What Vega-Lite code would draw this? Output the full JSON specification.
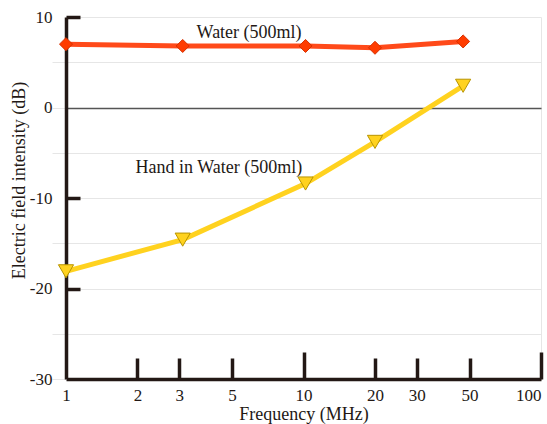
{
  "$schema": "https://vega.github.io/schema/vega-lite/v6.json",
  "width": 475,
  "height": 362,
  "autosize": "none",
  "padding": {"left": 66, "top": 17, "right": 6, "bottom": 45},
  "background": "white",
  "config": {"view": {"stroke": null}, "font": "Liberation Serif"},
  "data": {
    "values": [
      {"series": "Water", "freq": 1, "db": 7.0},
      {"series": "Water", "freq": 3.1, "db": 6.8},
      {"series": "Water", "freq": 10.2, "db": 6.8},
      {"series": "Water", "freq": 20, "db": 6.6},
      {"series": "Water", "freq": 47, "db": 7.3},
      {"series": "Hand", "freq": 1, "db": -18.1},
      {"series": "Hand", "freq": 3.1, "db": -14.6},
      {"series": "Hand", "freq": 10.2, "db": -8.4},
      {"series": "Hand", "freq": 20, "db": -3.8},
      {"series": "Hand", "freq": 47, "db": 2.4}
    ]
  },
  "encoding": {
    "x": {
      "field": "freq",
      "type": "quantitative",
      "scale": {"type": "log", "domain": [1, 100]},
      "axis": {
        "title": "Frequency (MHz)",
        "titleFont": "Liberation Serif",
        "titleFontSize": 18,
        "titleFontWeight": "normal",
        "titleColor": "#231815",
        "titleY": 35,
        "titleBaseline": "middle",
        "values": [1, 2, 3, 5, 10, 20, 30, 50, 100],
        "labelExpr": "'' + datum.value",
        "labelOverlap": false,
        "labelFont": "Liberation Serif",
        "labelFontSize": 17,
        "labelColor": "#231815",
        "labelPadding": {"condition": {"test": "datum.value == 10 || datum.value == 100", "value": 35}, "value": 29},
        "labelAlign": {"condition": {"test": "datum.value == 100", "value": "right"}, "value": "center"},
        "domainColor": "#231815",
        "domainWidth": 3.5,
        "tickColor": "#231815",
        "tickWidth": 3.5,
        "tickSize": {"condition": {"test": "datum.value == 10 || datum.value == 100", "value": -27}, "value": -21},
        "tickOpacity": {"condition": {"test": "datum.value == 1", "value": 0}, "value": 1},
        "grid": true,
        "gridColor": "#e6e6e6",
        "gridOpacity": {"condition": {"test": "datum.value == 100", "value": 1}, "value": 0}
      }
    },
    "y": {
      "field": "db",
      "type": "quantitative",
      "scale": {"domain": [-30, 10]},
      "axis": {
        "title": "Electric field intensity (dB)",
        "titleFont": "Liberation Serif",
        "titleFontSize": 18,
        "titleFontWeight": "normal",
        "titleColor": "#231815",
        "titleX": -47,
        "titleY": 163,
        "titleBaseline": "middle",
        "values": [-30, -25, -20, -15, -10, -5, 0, 5, 10],
        "labelExpr": "datum.value % 10 == 0 ? '' + datum.value : ''",
        "labelOverlap": false,
        "labelFont": "Liberation Serif",
        "labelFontSize": 17,
        "labelColor": "#231815",
        "labelPadding": {"condition": {"test": "datum.value == 10 || datum.value == -10 || datum.value == -20", "value": 28}, "value": 0},
        "domainColor": "#231815",
        "domainWidth": 3.5,
        "tickColor": {"condition": {"test": "datum.value == 10 || datum.value == -10 || datum.value == -20", "value": "#231815"}, "value": "#e6e6e6"},
        "tickWidth": {"condition": {"test": "datum.value == 10 || datum.value == -10 || datum.value == -20", "value": 3.5}, "value": 1},
        "tickSize": {"condition": {"test": "datum.value == 10 || datum.value == -10 || datum.value == -20", "value": -14}, "value": 14},
        "grid": true,
        "gridColor": {"condition": {"test": "datum.value == 0", "value": "#555555"}, "value": "#e6e6e6"},
        "gridWidth": {"condition": {"test": "datum.value == 0", "value": 1.5}, "value": 1}
      }
    }
  },
  "layer": [
    {
      "mark": {"type": "line", "strokeWidth": 5},
      "encoding": {
        "color": {
          "field": "series",
          "type": "nominal",
          "scale": {"domain": ["Water", "Hand"], "range": ["#FF4A1A", "#FFD21F"]},
          "legend": null
        }
      }
    },
    {
      "transform": [{"filter": "datum.series == 'Water'"}],
      "mark": {"type": "point", "shape": "diamond", "filled": true, "fill": "#FF3C00", "stroke": "#D63000", "strokeWidth": 1, "size": 170, "opacity": 1}
    },
    {
      "transform": [{"filter": "datum.series == 'Hand'"}],
      "mark": {"type": "point", "shape": "triangle-down", "filled": true, "fill": "#FFD21F", "stroke": "#B89400", "strokeWidth": 1, "size": 230, "opacity": 1}
    },
    {
      "data": {"values": [{"label": "Water (500ml)", "freq": 5.9, "db": 8.2}, {"label": "Hand in Water (500ml)", "freq": 4.4, "db": -6.7}]},
      "mark": {"type": "text", "font": "Liberation Serif", "fontSize": 18, "color": "#231815", "align": "center", "baseline": "middle"},
      "encoding": {"text": {"field": "label", "type": "nominal"}}
    }
  ]
}
